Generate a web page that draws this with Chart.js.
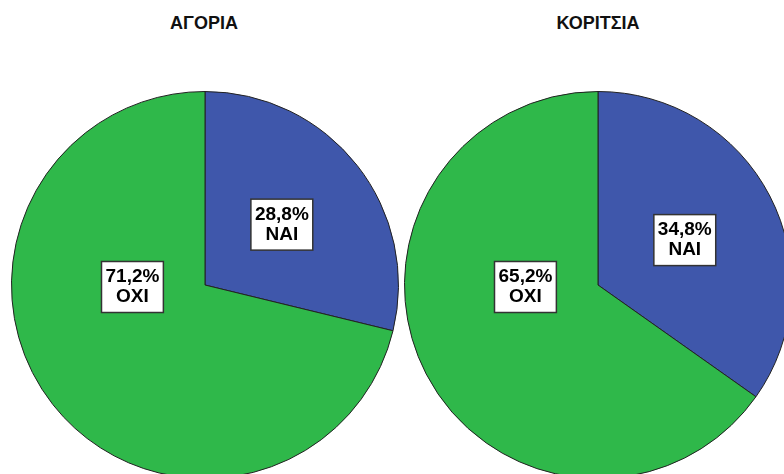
<!DOCTYPE html>
<html>
<head>
<meta charset="utf-8">
<script src="https://cdn.jsdelivr.net/npm/chart.js@4/dist/chart.umd.min.js"></script>
<style>
  html, body { margin: 0; padding: 0; background: #fff; }
  body { width: 784px; height: 474px; overflow: hidden; position: relative; font-family: "Liberation Sans", Arial, sans-serif; }
  .title { position: absolute; top: 13px; width: 200px; text-align: center; font-weight: bold; font-size: 18px; color: #111; }
  canvas { position: absolute; }
</style>
</head>
<body>
<div class="title" style="left:104px">ΑΓΟΡΙΑ</div>
<div class="title" style="left:498px">ΚΟΡΙΤΣΙΑ</div>
<canvas id="boys" width="388" height="388" style="left:11px;top:91px"></canvas>
<canvas id="girls" width="388" height="388" style="left:404px;top:91px"></canvas>
<script>
const categories = ["ΝΑΙ", "ΟΧΙ"];
const boys = [28.8, 71.2];
const girls = [34.8, 65.2];
const colors = ["#3f57ab", "#2fb84a"];

function fmt(v) {
    return v.toFixed(1).replace(".", ",") + "%";
}

// SPSS style boxed labels inside the slices
const boxLabels = {
    id: "boxLabels",
    afterDatasetsDraw(chart) {
        const ctx = chart.ctx;
        const meta = chart.getDatasetMeta(0);
        const values = chart.data.datasets[0].data;
        ctx.save();
        ctx.font = "bold 19px 'Liberation Sans', Arial, sans-serif";
        ctx.textAlign = "center";
        ctx.textBaseline = "middle";
        meta.data.forEach((arc, i) => {
            const p = arc.getProps(["x", "y", "startAngle", "endAngle", "outerRadius"], true);
            let x, y;
            if (values[i] > 50) {
                x = p.x - p.outerRadius * 0.375;
                y = p.y + 2;
            } else {
                const mid = (p.startAngle + p.endAngle) / 2;
                x = p.x + Math.cos(mid) * p.outerRadius * 0.505;
                y = p.y + Math.sin(mid) * p.outerRadius * 0.505;
            }
            const l1 = fmt(values[i]);
            const l2 = chart.data.labels[i];
            const w = Math.max(ctx.measureText(l1).width, ctx.measureText(l2).width) + 8;
            const h = 51;
            ctx.fillStyle = "#fff";
            ctx.strokeStyle = "#333";
            ctx.lineWidth = 1.5;
            ctx.fillRect(x - w / 2, y - h / 2, w, h);
            ctx.strokeRect(x - w / 2, y - h / 2, w, h);
            ctx.fillStyle = "#000";
            ctx.fillText(l1, x, y - 10);
            ctx.fillText(l2, x, y + 10);
        });
        ctx.restore();
    }
};

function makePie(id, values) {
    return new Chart(document.getElementById(id), {
        type: "pie",
        data: {
            labels: categories,
            datasets: [{
                data: values,
                backgroundColor: colors,
                borderColor: "#222",
                borderWidth: 1
            }]
        },
        options: {
            responsive: false,
            animation: false,
            layout: { padding: 0 },
            plugins: {
                legend: { display: false },
                tooltip: { enabled: false }
            }
        },
        plugins: [boxLabels]
    });
}

makePie("boys", boys);
makePie("girls", girls);
</script>
</body>
</html>
